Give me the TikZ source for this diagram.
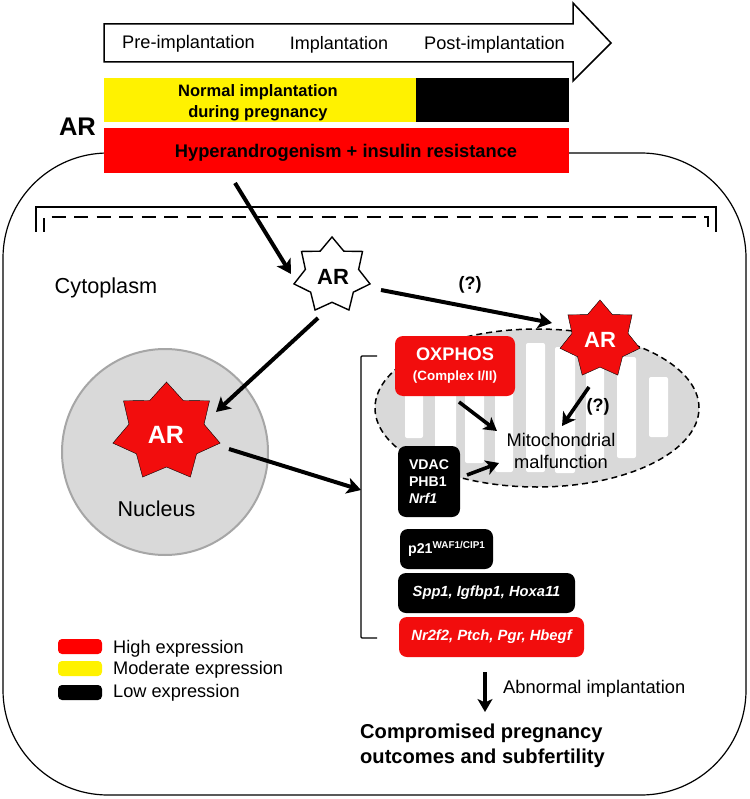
\documentclass[tikz,border=0pt]{standalone}
\usepackage{fontspec}
\setmainfont{Liberation Sans}
\usetikzlibrary{shapes.geometric,shapes.arrows,arrows.meta}
\definecolor{arred}{HTML}{F20D0D}
\definecolor{army}{HTML}{D9D9D9}
\definecolor{nucedge}{HTML}{A6A6A6}
\newcommand{\fs}[1]{\fontsize{#1}{#1}\selectfont}
% seven-pointed star: center x, center y, x radius, y radius, draw options
\newcommand{\arstar}[5]{%
  \draw[#5,line join=miter] (#1,#2-#4)
    \foreach \k [evaluate=\k as \rad using {mod(\k,2)==0?1:0.7}] in {1,...,13} {
      -- ({#1+#3*\rad*sin(\k*360/14)},{#2-#4*\rad*cos(\k*360/14)})
    } -- cycle;
}
\tikzset{
  x=1pt,y=-1pt,
  arr/.style={line width=4pt,-{Stealth[length=14pt,width=16pt,inset=3.5pt]}},
  arrsmall/.style={line width=3.6pt,-{Stealth[length=13pt,width=15pt,inset=3.5pt]}},
  genebox/.style={rectangle,rounded corners=8pt,inner sep=0pt,text=white,font=\bfseries},
  bar/.style={rectangle,inner sep=0pt,font=\bfseries},
  crista/.style={fill=white,rounded corners=2pt,draw=none},
  swatch/.style={rectangle,rounded corners=4pt,minimum width=44pt,minimum height=15pt,inner sep=0pt},
  lbl/.style={inner sep=0pt,align=center},
}
\begin{document}
\begin{tikzpicture}
\useasboundingbox (0,0) rectangle (749,799);
\fill[white] (0,0) rectangle (749,799);

% cell outline and membrane brackets
\draw[line width=1.2pt,rounded corners=105pt] (3,153) rectangle (746,795);
\draw[line width=1.2pt] (36,232) -- (36,207) -- (716,207) -- (716,232);
\draw[line width=2.4pt,dash pattern=on 14pt off 8.5pt] (44,232) -- (44,217) -- (708,217) -- (708,232);

% timeline arrow
\draw[line width=1.5pt,fill=white,line join=miter] (104,24) -- (573,24) -- (573,3) -- (611,43) -- (573,81) -- (573,62) -- (104,62) -- cycle;
\node[lbl,font=\fs{18.2}] (pre) at (188.5,44) {Pre-implantation};
\node[lbl,font=\fs{18}] (imp) at (339,45) {Implantation};
\node[lbl,font=\fs{18.2}] (post) at (494.5,45) {Post-implantation};

% expression bars
\fill[black] (416,78) rectangle (569,122);
\node[bar,fill=yellow,minimum width=312pt,minimum height=44pt] (normal) at (260,100) {};
\node[lbl,font=\bfseries\fs{16.5}] (normaltext) at (258,102.5) {Normal implantation\\[4.5pt]during pregnancy};
\node[bar,fill=red,minimum width=465pt,minimum height=45pt] (hyper) at (336.5,150.5) {};
\node[lbl,font=\bfseries\fs{18.3}] (hypertext) at (346,153) {Hyperandrogenism + insulin resistance};
\node[lbl,font=\bfseries\fs{25.5}] (arlabel) at (77.5,127) {AR};

% nucleus
\node[circle,fill=army,draw=nucedge,line width=2pt,minimum size=206pt,inner sep=0pt] (nucleus) at (165,452) {};
\node[lbl,font=\fs{21.5}] (nuctext) at (156.5,509) {Nucleus};

% mitochondrion with cristae
\node[ellipse,fill=army,draw=black,line width=1.5pt,dash pattern=on 6pt off 4pt,minimum width=324pt,minimum height=158pt,inner sep=0pt] (mito) at (537,408) {};
\fill[crista] (405,370) rectangle (423,438);
\fill[crista] (435,355) rectangle (456,455);
\fill[crista] (465,345) rectangle (484,463);
\fill[crista] (495,345) rectangle (513,472);
\fill[crista] (526,343) rectangle (545,472);
\fill[crista] (555,347) rectangle (575,473);
\fill[crista] (586,365) rectangle (604,462);
\fill[crista] (617,357) rectangle (636,458);
\fill[crista] (649,377) rectangle (668,437);
\node[lbl,font=\fs{18.3}] (malf) at (561,451) {Mitochondrial\\[4pt]malfunction};

% androgen receptor stars
\coordinate (arcyt) at (332,275.5);
\coordinate (arnuc) at (166,432.5);
\coordinate (armit) at (600,340);
\arstar{332}{275.4}{39}{38.4}{draw=black,line width=1.4pt,fill=white}
\node[lbl,font=\bfseries\fs{22}] (arcyttext) at (333,277) {AR};
\arstar{166.5}{432}{55}{50}{fill=arred}
\node[lbl,font=\bfseries\fs{25},text=white] (arnuctext) at (166,435) {AR};
\arstar{600}{339.5}{41}{39.5}{fill=arred}
\node[lbl,font=\bfseries\fs{22},text=white] (armittext) at (600,340) {AR};

% gene and pathway boxes
\node[genebox,fill=arred,minimum width=120pt,minimum height=60pt,align=center] (oxphos) at (455,366) {{\fs{18.2}OXPHOS}\\[8pt]{\fs{13.4}(Complex I/II)}};
\node[genebox,fill=black,minimum width=62pt,minimum height=71pt,align=left] (vdac) at (429,481.5) {{\fs{14.1}VDAC}\\[4.5pt]{\fs{14.1}PHB1}\\[5pt]{\fs{14.1}\itshape Nrf1}};
\node[genebox,fill=black,minimum width=93pt,minimum height=40pt] (p21) at (446.5,549) {\raisebox{-1pt}{\fs{14.2}p21\raisebox{4.5pt}{\fs{9.9}WAF1/CIP1}}};
\node[genebox,fill=black,minimum width=177pt,minimum height=40pt] (spp) at (486.5,593) {\raisebox{-1pt}{\fs{14.7}\itshape Spp1, Igfbp1, Hoxa11}};
\node[genebox,fill=arred,minimum width=185pt,minimum height=40pt] (nr) at (491.5,637) {\raisebox{-2pt}{\fs{14.8}\itshape Nr2f2, Ptch, Pgr, Hbegf}};

% bracket that groups the genes
\coordinate (brk) at (361,490);
\draw[line width=1.2pt,rounded corners=1pt] (377,356) -- (361,356) -- (361,638) -- (377,638);

% labels
\node[lbl,font=\fs{21.7}] (cyto) at (106,288) {Cytoplasm};
\node[lbl,font=\bfseries\fs{18}] (q1) at (470,285) {(?)};
\node[lbl,font=\bfseries\fs{18}] (q2) at (598,407) {(?)};
\node[lbl,anchor=west,font=\fs{18.3}] (abn) at (503,688.5) {Abnormal implantation};
\node[lbl,font=\bfseries\fs{20.1},align=left] (outcome) at (482.5,745.5) {Compromised pregnancy\\[5pt]outcomes and subfertility};

% legend
\node[swatch,fill=red] (hi) at (80,646.5) {};
\node[swatch,fill=yellow] (mo) at (80,668.5) {};
\node[swatch,fill=black] (lo) at (80,692.5) {};
\node[lbl,anchor=west,font=\fs{18.2}] (hit) at (113,649) {High expression};
\node[lbl,anchor=west,font=\fs{18.2}] (mot) at (113,670) {Moderate expression};
\node[lbl,anchor=west,font=\fs{18.2}] (lot) at (113,693) {Low expression};

% connectors
\draw[arr] ([shift={(-101.5,32.5)}]hyper.center) -- ([shift={(-41,-1.5)}]arcyt);
\draw[arr] ([shift={(49,14.5)}]arcyt) -- ([shift={(-48,-17)}]armit);
\draw[arr] ([shift={(-14,42.5)}]arcyt) -- ([shift={(50,-20.5)}]arnuc);
\draw[arr] ([shift={(63,16.5)}]arnuc) -- (brk);
\draw[arrsmall] ([shift={(4,36)}]oxphos.center) -- ([shift={(-64,-20)}]malf.center);
\draw[arrsmall] ([shift={(38,-6.5)}]vdac.center) -- ([shift={(-62,12)}]malf.center);
\draw[arrsmall] ([shift={(-11,47)}]armit) -- ([shift={(1,-25)}]malf.center);
\draw[arrsmall] ([shift={(-6.5,35)}]nr.center) -- ([shift={(2.5,-33.5)}]outcome.center);
\end{tikzpicture}
\end{document}
